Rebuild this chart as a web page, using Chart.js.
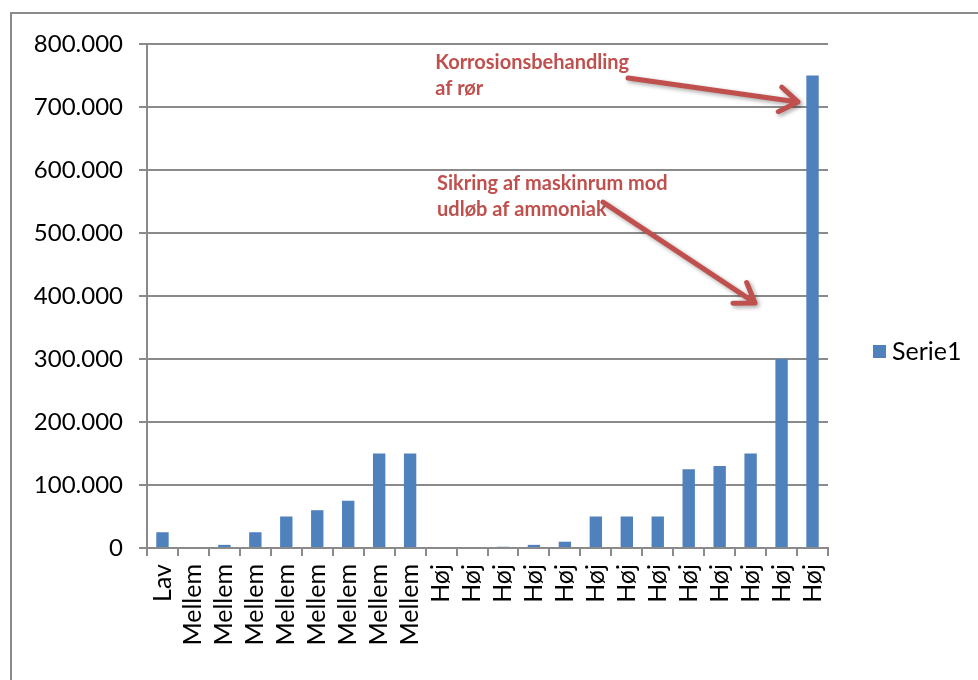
<!DOCTYPE html>
<html lang="da">
<head>
    <meta charset="UTF-8">
    <title>Serie1</title>
    <script src="https://cdn.jsdelivr.net/npm/chart.js"></script>
    <style>
        html, body { margin: 0; padding: 0; background: #fff; overflow: hidden; }
        #wrap { position: relative; width: 978px; height: 680px; }
        #frame { position: absolute; left: 10px; top: 12px; width: 980px; height: 700px; border: 2px solid #8a8a8a; box-sizing: border-box; }
        canvas { position: absolute; left: 0; top: 0; }
    </style>
</head>
<body>
<div id="wrap">
    <div id="frame"></div>
    <canvas id="chart" width="978" height="680"></canvas>
</div>
<script>
    // categories and values
    const labels = ['Lav', 'Mellem', 'Mellem', 'Mellem', 'Mellem', 'Mellem', 'Mellem', 'Mellem', 'Mellem',
        'Høj', 'Høj', 'Høj', 'Høj', 'Høj', 'Høj', 'Høj', 'Høj', 'Høj', 'Høj', 'Høj', 'Høj', 'Høj'];
    const values = [25000, 0, 5000, 25000, 50000, 60000, 75000, 150000, 150000,
        0, 0, 2000, 5000, 10000, 50000, 50000, 50000, 125000, 130000, 150000, 300000, 750000];
    const seriesName = 'Serie1';

    // notes with arrows, in category index / value units
    const noteLines = [
        ['Korrosionsbehandling', 'af rør'],
        ['Sikring af maskinrum mod', 'udløb af ammoniak']
    ];
    const noteAnchor = [[8.81, 771000], [8.87, 578000]];
    const arrowFrom = [[15.04, 746000], [14.23, 549000]];
    const arrowTo = [[20.53, 708000], [19.14, 389000]];

    const barColor = '#4f81bd';
    const noteColor = '#c0504d';
    const gridColor = '#8a8a8a';

    const fmt = v => v === 0 ? '0' : String(v).replace(/\B(?=(\d{3})+(?!\d))/g, '.');

    const extras = {
        id: 'extras',
        afterDraw(chart) {
            const ctx = chart.ctx;
            const x = chart.scales.x, y = chart.scales.y;
            const ca = chart.chartArea;

            // legend
            ctx.save();
            const ly = (ca.top + ca.bottom) / 2 + 56;
            ctx.fillStyle = barColor;
            ctx.fillRect(ca.right + 45, ly - 7, 13, 13);
            ctx.fillStyle = '#000';
            ctx.font = '25px Lato';
            ctx.textBaseline = 'middle';
            ctx.fillText(seriesName, ca.right + 64, ly);
            ctx.restore();

            // note text
            ctx.save();
            ctx.fillStyle = noteColor;
            ctx.font = 'bold 20px Lato';
            ctx.textBaseline = 'middle';
            noteLines.forEach((lines, i) => {
                const px = x.getPixelForValue(noteAnchor[i][0]);
                const py = y.getPixelForValue(noteAnchor[i][1]);
                lines.forEach((t, j) => ctx.fillText(t, px, py + j * 26));
            });
            ctx.restore();

            // arrows
            arrowFrom.forEach((a, i) => {
                const x0 = x.getPixelForValue(a[0]), y0 = y.getPixelForValue(a[1]);
                const x1 = x.getPixelForValue(arrowTo[i][0]), y1 = y.getPixelForValue(arrowTo[i][1]);
                const ang = Math.atan2(y1 - y0, x1 - x0);
                const head = 22, spread = 0.6;
                ctx.save();
                ctx.strokeStyle = noteColor;
                ctx.lineWidth = 5;
                ctx.lineCap = 'round';
                ctx.lineJoin = 'round';
                ctx.shadowColor = 'rgba(0,0,0,0.35)';
                ctx.shadowBlur = 4;
                ctx.shadowOffsetX = 2;
                ctx.shadowOffsetY = 2;
                ctx.beginPath();
                ctx.moveTo(x0, y0);
                ctx.lineTo(x1, y1);
                ctx.moveTo(x1 - head * Math.cos(ang - spread), y1 - head * Math.sin(ang - spread));
                ctx.lineTo(x1, y1);
                ctx.lineTo(x1 - head * Math.cos(ang + spread), y1 - head * Math.sin(ang + spread));
                ctx.stroke();
                ctx.restore();
            });
        }
    };

    new Chart(document.getElementById('chart'), {
        type: 'bar',
        data: {
            labels: labels,
            datasets: [{
                label: seriesName,
                data: values,
                backgroundColor: barColor,
                categoryPercentage: 1,
                barPercentage: 0.4
            }]
        },
        options: {
            responsive: false,
            animation: false,
            layout: { padding: { top: 44, right: 150, left: 0, bottom: 0 } },
            plugins: {
                legend: { display: false },
                tooltip: { enabled: false }
            },
            scales: {
                x: {
                    afterFit: s => { s.height = 132; },
                    grid: { display: true, drawOnChartArea: false, offset: true, tickLength: 8, color: gridColor, lineWidth: 2 },
                    border: { color: gridColor, width: 2 },
                    ticks: {
                        minRotation: 90, maxRotation: 90, autoSkip: false, padding: 8,
                        color: '#000', font: { family: 'Lato', size: 25 }
                    }
                },
                y: {
                    min: 0, max: 800000,
                    afterFit: s => { s.width = 147; },
                    grid: { color: gridColor, lineWidth: 2, tickLength: 8 },
                    border: { color: gridColor, width: 2 },
                    ticks: {
                        stepSize: 100000, padding: 16,
                        color: '#000', font: { family: 'Lato', size: 24 },
                        callback: v => fmt(v)
                    }
                }
            }
        },
        plugins: [extras]
    });
</script>
</body>
</html>
